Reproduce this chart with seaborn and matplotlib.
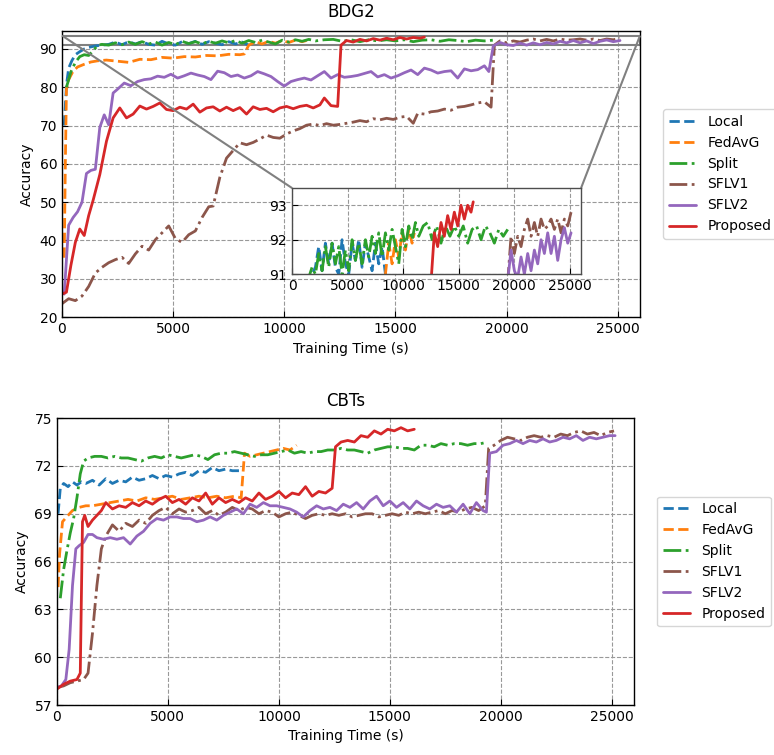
import matplotlib
matplotlib.use("Agg")
import matplotlib.pyplot as plt
import seaborn as sns
from mpl_toolkits.axes_grid1.inset_locator import mark_inset

# ---------------------------------------------------------------- data
methods = ["Local", "FedAvG", "Split", "SFLV1", "SFLV2", "Proposed"]

# BDG2
bdg2_local_t = [100, 200, 300, 450, 600, 800, 1000, 1200, 1500, 1800,
                2100, 2400, 2700, 3000, 3300, 3600, 3900, 4200, 4500, 4800,
                5100, 5400, 5700, 6000, 6300, 6600, 6900, 7200, 7500, 7800,
                8100, 8400]
bdg2_local_acc = [70.0, 80.5, 85.0, 87.0, 88.5, 89.3, 90.0, 90.4, 90.8, 91.0,
                  91.2, 91.8, 91.1, 91.9, 91.3, 91.9, 91.2, 91.0, 92.0, 91.3,
                  91.0, 91.9, 91.4, 92.0, 91.2, 91.9, 91.5, 91.1, 91.9, 91.3,
                  91.8, 91.0]

bdg2_fedavg_t = [100, 150, 200, 300, 500, 700, 1000, 1300, 1600, 2000,
                 2500, 3000, 3500, 4000, 4500, 5000, 5500, 6000, 6500, 7000,
                 7500, 8000, 8200, 8400, 8700, 9000, 9300, 9600, 9900, 10200,
                 10500, 10800, 11000]
bdg2_fedavg_acc = [35.5, 60.0, 79.5, 82.0, 84.2, 85.3, 86.0, 86.6, 86.9, 87.1,
                   86.8, 86.5, 87.3, 87.2, 87.8, 87.6, 88.0, 87.9, 88.3, 88.2,
                   88.6, 88.5, 88.7, 91.0, 91.9, 91.3, 92.0, 91.5, 92.2, 91.7,
                   92.3, 91.9, 92.2]

bdg2_split_t = [200, 400, 600, 800, 1000, 1200, 1400, 1600, 1800, 2100,
                2400, 2700, 3000, 3300, 3600, 3900, 4200, 4500, 4800, 5100,
                5400, 5700, 6000, 6300, 6600, 6900, 7200, 7500, 7800, 8100,
                8400, 8700, 9000, 9300, 9600, 9900, 10200, 10500, 10800, 11100,
                11400, 11800, 12200, 12600, 13000, 13400, 13800, 14200, 14600, 15000,
                15400, 15800, 16200, 16600, 17000, 17400, 17800, 18200, 18600, 19000,
                19400]
bdg2_split_acc = [80.0, 84.0, 86.5, 88.0, 88.5, 88.3, 89.5, 91.0, 91.2, 91.0,
                  91.6, 91.1, 91.8, 91.2, 91.9, 91.3, 91.8, 91.0, 91.7, 91.1,
                  92.0, 91.4, 91.9, 91.3, 92.0, 91.5, 92.1, 91.6, 92.2, 91.5,
                  92.2, 91.7, 92.3, 91.8, 91.3, 92.3, 91.8, 92.4, 92.0, 92.5,
                  92.1, 92.4, 92.5, 92.0, 92.4, 91.9, 92.4, 92.1, 92.4, 92.1,
                  92.4, 91.9, 92.3, 92.4, 92.0, 92.4, 92.2, 91.9, 92.3, 92.1,
                  92.3]

bdg2_sflv1_t = [0, 300, 600, 900, 1200, 1500, 1800, 2100, 2400, 2700,
                3000, 3300, 3600, 3900, 4200, 4500, 4800, 5100, 5400, 5700,
                6000, 6300, 6600, 6800, 7100, 7400, 7700, 8000, 8300, 8600,
                8900, 9200, 9500, 9800, 10100, 10400, 10700, 11000, 11300, 11600,
                11900, 12200, 12500, 12800, 13100, 13400, 13700, 14000, 14300, 14600,
                14900, 15200, 15500, 15800, 16000, 16300, 16600, 16900, 17200, 17500,
                17800, 18100, 18400, 18700, 19000, 19300, 19450, 19700, 20000, 20300,
                20600, 20900, 21200, 21500, 21800, 22100, 22400, 22700, 23000, 23300,
                23600, 23900, 24200, 24500, 24800, 25100]
bdg2_sflv1_acc = [23.5, 24.8, 24.3, 25.5, 28.0, 31.5, 33.0, 34.2, 35.0, 35.6,
                  34.0, 36.5, 38.5, 37.5, 40.2, 42.0, 43.8, 40.5, 39.5, 41.5,
                  42.5, 46.0, 48.8, 49.0, 56.5, 61.5, 63.5, 65.5, 65.0, 65.6,
                  66.5, 67.5, 66.9, 66.7, 67.8, 68.6, 69.2, 70.1, 70.4, 70.0,
                  70.5, 70.1, 70.3, 70.6, 70.9, 71.3, 71.0, 71.8, 71.5, 71.9,
                  71.6, 72.2, 72.4, 70.6, 73.2, 73.0, 73.6, 73.8, 74.3, 74.0,
                  74.8, 75.0, 75.4, 75.9, 76.2, 74.8, 91.0, 92.1, 91.6, 92.1,
                  91.8, 92.3, 92.6, 92.1, 92.5, 92.1, 92.6, 92.3, 92.4, 92.6,
                  92.3, 92.6, 92.2, 92.6, 92.4, 92.8]

bdg2_sflv2_t = [100, 300, 500, 700, 900, 1100, 1300, 1500, 1700, 1900,
                2100, 2300, 2500, 2800, 3100, 3400, 3700, 4000, 4300, 4600,
                4900, 5200, 5500, 5800, 6100, 6400, 6700, 7000, 7300, 7600,
                7900, 8200, 8500, 8800, 9100, 9400, 9700, 10000, 10300, 10600,
                10900, 11200, 11500, 11800, 12100, 12400, 12700, 13000, 13300, 13600,
                13900, 14200, 14500, 14800, 15100, 15400, 15700, 16000, 16300, 16600,
                16900, 17200, 17500, 17800, 18100, 18400, 18700, 19000, 19200, 19400,
                19700, 20000, 20300, 20600, 20900, 21200, 21500, 21800, 22100, 22400,
                22700, 23000, 23300, 23600, 23900, 24200, 24500, 24800, 25100]
bdg2_sflv2_acc = [26.0, 44.0, 46.0, 47.5, 50.0, 57.5, 58.3, 58.6, 69.5, 72.8,
                  70.2, 78.5, 79.5, 81.1, 80.4, 81.5, 82.0, 82.2, 82.9, 82.6,
                  83.4, 82.4, 83.0, 83.7, 83.2, 82.8, 82.0, 84.2, 83.8, 82.8,
                  83.2, 82.4, 83.0, 84.1, 83.5, 82.8, 81.5, 80.3, 81.5, 82.0,
                  82.4, 81.9, 83.0, 84.1, 82.4, 83.3, 82.6, 82.8, 83.1, 83.6,
                  84.1, 82.7, 83.3, 82.4, 83.0, 83.8, 84.5, 83.3, 85.0, 84.5,
                  83.7, 84.1, 84.3, 82.4, 84.8, 84.3, 84.6, 85.6, 84.1, 90.8,
                  91.7, 91.1, 90.9, 91.5, 91.0, 91.6, 91.1, 91.7, 91.3, 92.0,
                  91.6, 92.2, 91.6, 92.1, 91.4, 92.0, 92.35, 91.9, 92.2]

bdg2_proposed_t = [0, 200, 400, 600, 800, 1000, 1200, 1400, 1700, 2000,
                   2300, 2600, 2900, 3200, 3500, 3800, 4100, 4400, 4700, 5000,
                   5300, 5600, 5900, 6200, 6500, 6800, 7100, 7400, 7700, 8000,
                   8300, 8600, 8900, 9200, 9500, 9800, 10100, 10400, 10700, 11000,
                   11300, 11600, 11800, 12100, 12400, 12550, 12800, 13100, 13400, 13700,
                   14000, 14300, 14600, 14900, 15200, 15500, 15800, 16100, 16300]
bdg2_proposed_acc = [26.0, 26.5, 33.5, 39.5, 43.0, 41.3, 46.5, 50.5, 57.2, 65.9,
                     72.0, 74.6, 72.0, 73.0, 75.1, 74.3, 75.0, 75.9, 74.2, 73.9,
                     74.8, 74.3, 75.6, 73.5, 74.6, 74.9, 73.8, 74.8, 73.9, 74.7,
                     73.0, 74.9, 74.2, 74.5, 73.6, 74.6, 75.0, 74.4, 75.0, 75.3,
                     74.6, 75.4, 77.2, 75.2, 75.0, 91.0, 92.2, 91.8, 92.5, 92.1,
                     92.7, 92.3, 92.8, 92.4, 93.0, 92.6, 93.0, 92.8, 93.1]

# CBTs
cbts_local_t = [50, 150, 300, 500, 700, 900, 1100, 1300, 1600, 1900,
                2200, 2500, 2800, 3100, 3400, 3700, 4000, 4300, 4600, 4900,
                5200, 5500, 5800, 6100, 6400, 6700, 7000, 7300, 7600, 7900,
                8200]
cbts_local_acc = [69.0, 70.6, 70.9, 70.7, 71.0, 70.8, 71.0, 70.9, 71.1, 70.8,
                  71.2, 70.9, 71.1, 71.0, 71.3, 71.1, 71.2, 71.4, 71.2, 71.4,
                  71.3, 71.5, 71.6, 71.4, 71.7, 71.6, 71.9, 71.7, 71.8, 71.7,
                  71.7]

cbts_fedavg_t = [50, 120, 250, 500, 700, 1000, 1300, 1600, 2000, 2400,
                 2800, 3200, 3600, 4000, 4400, 4800, 5200, 5600, 6000, 6400,
                 6800, 7200, 7600, 8000, 8300, 8450, 8700, 9000, 9300, 9600,
                 9900, 10200, 10500, 10800]
cbts_fedavg_acc = [64.4, 66.5, 68.5, 68.9, 69.2, 69.4, 69.5, 69.5, 69.6, 69.7,
                   69.8, 69.9, 69.8, 70.0, 69.9, 70.0, 70.1, 69.9, 70.0, 70.1,
                   70.0, 70.1, 70.0, 70.1, 70.0, 72.8, 72.6, 72.7, 72.8, 72.9,
                   73.0, 73.1, 73.0, 73.3]

cbts_split_t = [150, 300, 450, 600, 750, 900, 1050, 1200, 1400, 1700,
                2000, 2300, 2600, 2900, 3200, 3500, 3800, 4100, 4400, 4700,
                5000, 5300, 5600, 5900, 6200, 6500, 6800, 7100, 7400, 7700,
                8000, 8300, 8600, 8900, 9200, 9500, 9800, 10100, 10400, 10700,
                11000, 11300, 11600, 11900, 12200, 12500, 12800, 13100, 13400, 13700,
                14000, 14300, 14600, 14900, 15200, 15500, 15800, 16100, 16400, 16700,
                17000, 17300, 17600, 17900, 18200, 18500, 18800, 19100, 19400]
cbts_split_acc = [63.7, 65.5, 66.7, 67.8, 68.7, 70.0, 71.5, 72.3, 72.5, 72.6,
                  72.6, 72.5, 72.6, 72.5, 72.5, 72.4, 72.3, 72.5, 72.6, 72.5,
                  72.7, 72.6, 72.5, 72.6, 72.7, 72.6, 72.4, 72.7, 72.8, 72.8,
                  72.9, 72.8, 72.7, 72.6, 72.7, 72.7, 72.8, 72.9, 73.0, 72.8,
                  72.9, 72.8, 72.9, 72.9, 73.0, 73.0, 73.1, 73.0, 73.0, 72.9,
                  72.8, 73.0, 73.1, 73.2, 73.2, 73.1, 73.1, 73.0, 73.3, 73.3,
                  73.2, 73.4, 73.3, 73.4, 73.4, 73.3, 73.4, 73.4, 73.5]

cbts_sflv1_t = [0, 300, 600, 900, 1200, 1400, 1600, 1800, 2000, 2200,
                2500, 2800, 3100, 3400, 3700, 4000, 4300, 4600, 4900, 5200,
                5500, 5800, 6100, 6400, 6700, 7000, 7300, 7600, 7900, 8200,
                8500, 8800, 9100, 9400, 9700, 10000, 10300, 10600, 10900, 11200,
                11500, 11800, 12100, 12400, 12700, 13000, 13300, 13600, 13900, 14200,
                14500, 14800, 15100, 15400, 15700, 16000, 16300, 16600, 16900, 17200,
                17500, 17800, 18100, 18400, 18700, 19000, 19300, 19450, 19700, 20000,
                20300, 20600, 20900, 21200, 21500, 21800, 22100, 22400, 22700, 23000,
                23300, 23600, 23900, 24200, 24500, 24800, 25100]
cbts_sflv1_acc = [58.1, 58.2, 58.4, 58.5, 58.6, 59.0, 61.5, 64.5, 66.8, 67.6,
                  68.3, 67.9, 68.4, 68.2, 68.6, 68.4, 68.9, 69.2, 69.4, 69.0,
                  69.3, 69.1, 69.2, 69.4, 69.0, 69.2, 68.9, 69.1, 69.4, 69.2,
                  69.4, 69.3, 69.0, 69.2, 69.1, 68.8, 69.0, 69.1, 68.9, 68.7,
                  68.9, 69.0, 68.9, 69.0, 68.9, 69.0, 68.8, 68.9, 69.0, 69.0,
                  68.8, 68.9, 69.0, 68.9, 69.1, 69.0, 69.1, 69.0, 69.1, 69.2,
                  69.0, 69.2, 69.1, 69.3, 69.4, 69.2, 69.5, 73.1, 73.3, 73.6,
                  73.8, 73.7, 73.6, 73.8, 73.9, 73.8, 73.9, 73.8, 74.0, 73.9,
                  74.1, 74.2, 74.0, 74.1, 73.9, 74.1, 74.2]

cbts_sflv2_t = [0, 200, 400, 550, 700, 850, 1000, 1200, 1400, 1600,
                1800, 2100, 2400, 2700, 3000, 3300, 3600, 3900, 4200, 4500,
                4800, 5100, 5400, 5700, 6000, 6300, 6600, 6900, 7200, 7500,
                7800, 8100, 8400, 8700, 9000, 9300, 9600, 9900, 10200, 10500,
                10800, 11100, 11400, 11700, 12000, 12300, 12600, 12900, 13200, 13500,
                13800, 14100, 14400, 14700, 15000, 15300, 15600, 15900, 16200, 16500,
                16800, 17100, 17400, 17700, 18000, 18300, 18600, 18900, 19200, 19350,
                19500, 19800, 20100, 20400, 20700, 21000, 21300, 21600, 21900, 22200,
                22500, 22800, 23100, 23400, 23700, 24000, 24300, 24600, 24900, 25150]
cbts_sflv2_acc = [58.1, 58.2, 58.6, 60.5, 64.5, 66.8, 67.0, 67.2, 67.7, 67.7,
                  67.5, 67.4, 67.5, 67.4, 67.5, 67.1, 67.6, 67.9, 68.4, 68.7,
                  68.6, 68.8, 68.8, 68.7, 68.7, 68.5, 68.6, 68.8, 68.6, 68.9,
                  69.1, 69.3, 69.0, 69.6, 69.4, 69.7, 69.5, 69.5, 69.4, 69.3,
                  69.1, 68.8, 69.2, 69.5, 69.3, 69.4, 69.2, 69.6, 69.4, 69.7,
                  69.3, 69.8, 70.1, 69.5, 69.8, 69.4, 69.7, 69.3, 69.8, 69.5,
                  69.3, 69.6, 69.4, 69.5, 69.1, 69.6, 69.0, 69.7, 69.2, 69.1,
                  72.8, 72.9, 73.3, 73.4, 73.6, 73.4, 73.6, 73.5, 73.7, 73.5,
                  73.6, 73.8, 73.7, 73.9, 73.6, 73.8, 73.7, 73.8, 73.9, 73.9]

cbts_proposed_t = [0, 300, 600, 900, 1050, 1150, 1250, 1400, 1600, 1800,
                   2000, 2200, 2500, 2800, 3100, 3400, 3700, 4000, 4300, 4600,
                   4900, 5200, 5500, 5800, 6100, 6400, 6700, 7000, 7300, 7600,
                   7900, 8200, 8500, 8800, 9100, 9400, 9700, 10000, 10300, 10600,
                   10900, 11200, 11500, 11800, 12100, 12400, 12550, 12800, 13100, 13400,
                   13700, 14000, 14300, 14600, 14900, 15200, 15500, 15800, 16100]
cbts_proposed_acc = [58.0, 58.3, 58.5, 58.6, 59.0, 68.5, 68.9, 68.2, 68.6, 68.9,
                     69.2, 69.7, 69.3, 69.5, 69.4, 69.7, 69.5, 69.8, 69.6, 69.9,
                     70.1, 69.7, 69.9, 69.6, 70.0, 69.8, 70.3, 69.6, 70.0, 69.7,
                     69.9, 69.7, 70.0, 69.8, 70.3, 69.9, 70.1, 70.4, 70.0, 70.3,
                     70.2, 70.7, 70.1, 70.4, 70.3, 70.6, 73.2, 73.5, 73.6, 73.5,
                     73.9, 73.8, 74.2, 74.0, 74.3, 74.2, 74.4, 74.2, 74.3]

bdg2_series = [(bdg2_local_t, bdg2_local_acc), (bdg2_fedavg_t, bdg2_fedavg_acc),
               (bdg2_split_t, bdg2_split_acc), (bdg2_sflv1_t, bdg2_sflv1_acc),
               (bdg2_sflv2_t, bdg2_sflv2_acc), (bdg2_proposed_t, bdg2_proposed_acc)]
cbts_series = [(cbts_local_t, cbts_local_acc), (cbts_fedavg_t, cbts_fedavg_acc),
               (cbts_split_t, cbts_split_acc), (cbts_sflv1_t, cbts_sflv1_acc),
               (cbts_sflv2_t, cbts_sflv2_acc), (cbts_proposed_t, cbts_proposed_acc)]

# ---------------------------------------------------------------- style
sns.set_style("ticks")
plt.rcParams.update({
    "font.family": ["DejaVu Sans"],
    "font.size": 10,
    "text.color": "black",
    "axes.labelcolor": "black",
    "xtick.color": "black",
    "ytick.color": "black",
    "xtick.direction": "in",
    "ytick.direction": "in",
    "xtick.major.size": 4,
    "ytick.major.size": 4,
    "axes.edgecolor": "black",
    "axes.linewidth": 1.0,
})

colors = ["#1f77b4", "#ff7f0e", "#2ca02c", "#8c564b", "#9467bd", "#d62728"]
linestyles = ["--", "--", "-.", "-.", "-", "-"]


def draw_curves(ax, series, with_labels=True):
    for name, (t, acc), c, ls in zip(methods, series, colors, linestyles):
        kws = {"label": name} if with_labels else {}
        sns.lineplot(x=t, y=acc, ax=ax, color=c, linestyle=ls, linewidth=2.0,
                     estimator=None, sort=False, legend=False, **kws)


def style_axes(ax, title, ylim, yticks, title_pad):
    ax.set_xlim(0, 26000)
    ax.set_ylim(*ylim)
    ax.set_xticks([0, 5000, 10000, 15000, 20000, 25000])
    ax.set_yticks(yticks)
    ax.grid(True, linestyle="--", color="0.6", linewidth=0.8)
    ax.set_axisbelow(True)
    ax.set_title(title, fontsize=12, pad=title_pad)
    ax.set_xlabel("Training Time (s)")
    ax.set_ylabel("Accuracy")
    ax.legend(loc="center left", bbox_to_anchor=(1.028, 0.5), fontsize=10,
              frameon=True, handlelength=2.0)


fig = plt.figure(figsize=(7.74, 7.55), dpi=100)

# BDG2 panel with zoomed inset
ax1 = fig.add_axes([0.0801, 0.580, 0.7468, 0.379])
draw_curves(ax1, bdg2_series)
style_axes(ax1, "BDG2", (20, 94.7), [20, 30, 40, 50, 60, 70, 80, 90], 10)

axins = ax1.inset_axes([0.398, 0.150, 0.5, 0.301])
draw_curves(axins, bdg2_series, with_labels=False)
axins.set_xlim(0, 26000)
axins.set_ylim(91, 93.5)
axins.set_xticks([0, 5000, 10000, 15000, 20000, 25000])
axins.set_yticks([91, 92, 93])
axins.set_xlabel("")
axins.set_ylabel("")
axins.grid(True, linestyle="--", color="0.6", linewidth=0.8)
axins.set_axisbelow(True)
for sp in axins.spines.values():
    sp.set_color("0.3")
mark_inset(ax1, axins, loc1=2, loc2=1, fc="none", ec="0.5", lw=1.5)

# CBTs panel
ax2 = fig.add_axes([0.0736, 0.0662, 0.7455, 0.380])
draw_curves(ax2, cbts_series)
style_axes(ax2, "CBTs", (57, 75), [57, 60, 63, 66, 69, 72, 75], 9)

fig.savefig("out.png", dpi=100)
